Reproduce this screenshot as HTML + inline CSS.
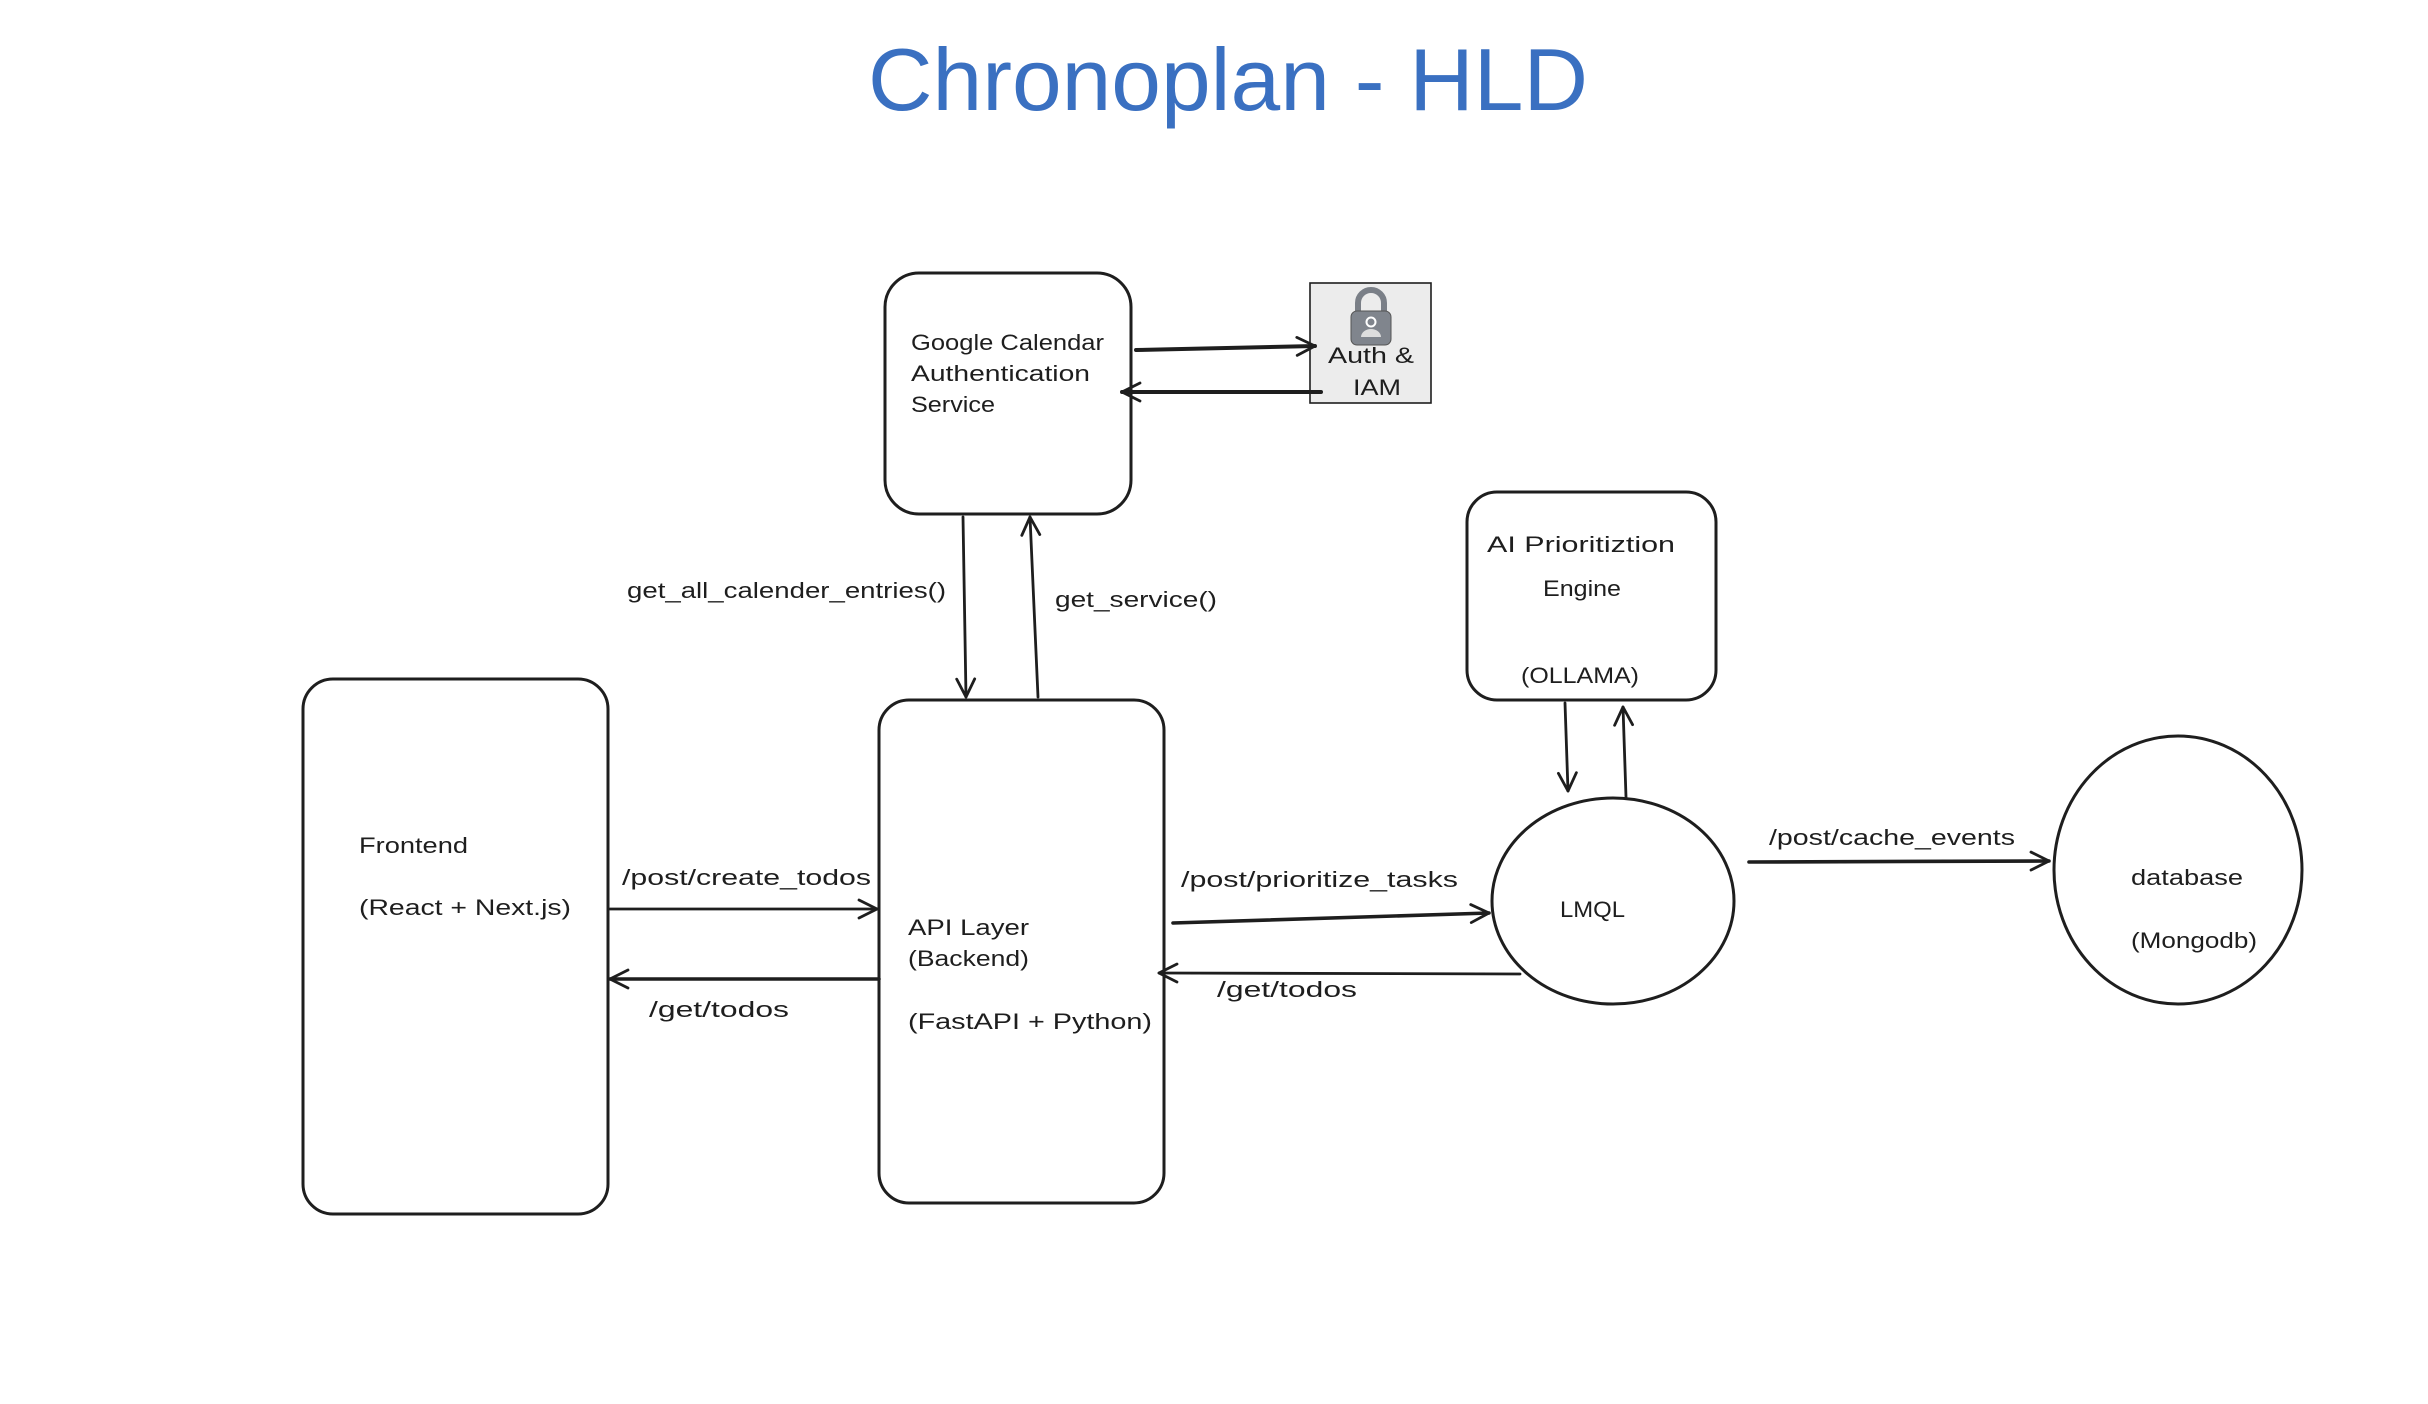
<!DOCTYPE html>
<html><head><meta charset="utf-8"><style>
html,body{margin:0;padding:0;background:#fff;}
svg{display:block;}
text{font-family:"Liberation Sans",sans-serif;fill:#1e1e1e;font-size:22px;}
</style></head><body>
<svg width="2428" height="1404" viewBox="0 0 2428 1404" xmlns="http://www.w3.org/2000/svg">
<defs>
<marker id="a" markerWidth="24" markerHeight="24" refX="20" refY="12" orient="auto" markerUnits="userSpaceOnUse">
<path d="M2,3 L20,12 L2,21" fill="none" stroke="#1e1e1e" stroke-width="2.8" stroke-linecap="round" stroke-linejoin="round"/>
</marker>
</defs>
<text x="1228" y="110" text-anchor="middle" style="font-size:88px;fill:#3a70c1" textLength="720" lengthAdjust="spacingAndGlyphs">Chronoplan - HLD</text>
<g transform="translate(-5,-3)">
<g fill="none" stroke="#1e1e1e" stroke-width="3">
<rect x="890" y="276" width="246" height="241" rx="34"/>
<rect x="308" y="682" width="305" height="535" rx="30"/>
<rect x="884" y="703" width="285" height="503" rx="30"/>
<rect x="1472" y="495" width="249" height="208" rx="30"/>
<ellipse cx="1618" cy="904" rx="121" ry="103"/>
<ellipse cx="2183" cy="873" rx="124" ry="134"/>
</g>
<rect x="1315" y="286" width="121" height="120" fill="#ececec" stroke="#1e1e1e" stroke-width="1.6"/>
<path d="M1363,318 v-12 a13,13 0 0 1 26,0 v12" fill="none" stroke="#7a7f87" stroke-width="6"/>
<rect x="1356" y="314" width="40" height="34" rx="6" fill="#80858d" stroke="#555" stroke-width="1"/>
<circle cx="1376" cy="325" r="4.5" fill="none" stroke="#fff" stroke-width="2"/>
<path d="M1366,340 a10,8 0 0 1 20,0 z" fill="#ddd"/>

<g fill="none" stroke="#1e1e1e" stroke-width="2.8" marker-end="url(#a)" stroke-linecap="round">
<line x1="1141" y1="353" x2="1320" y2="349" stroke-width="4"/>
<line x1="1326" y1="395" x2="1127" y2="395" stroke-width="4"/>
<line x1="968" y1="520" x2="971" y2="700"/>
<line x1="1043" y1="700" x2="1035" y2="520"/>
<line x1="615" y1="912" x2="882" y2="912"/>
<line x1="884" y1="982" x2="615" y2="982" stroke-width="3.6"/>
<line x1="1178" y1="926" x2="1494" y2="916" stroke-width="3.6"/>
<line x1="1525" y1="977" x2="1164" y2="976"/>
<line x1="1570" y1="706" x2="1573" y2="794"/>
<line x1="1631" y1="800" x2="1628" y2="710"/>
<line x1="1754" y1="865" x2="2054" y2="864" stroke-width="3.6"/>
</g>

<text x="632" y="601" textLength="319" lengthAdjust="spacingAndGlyphs">get_all_calender_entries()</text>
<text x="1060" y="610" textLength="162" lengthAdjust="spacingAndGlyphs">get_service()</text>
<text x="627" y="888" textLength="249" lengthAdjust="spacingAndGlyphs">/post/create_todos</text>
<text x="654" y="1020" textLength="140" lengthAdjust="spacingAndGlyphs">/get/todos</text>
<text x="1186" y="890" textLength="277" lengthAdjust="spacingAndGlyphs">/post/prioritize_tasks</text>
<text x="1222" y="1000" textLength="140" lengthAdjust="spacingAndGlyphs">/get/todos</text>
<text x="1774" y="848" textLength="246" lengthAdjust="spacingAndGlyphs">/post/cache_events</text>

<text x="916" y="353" textLength="193" lengthAdjust="spacingAndGlyphs">Google Calendar</text>
<text x="916" y="384" textLength="179" lengthAdjust="spacingAndGlyphs">Authentication</text>
<text x="916" y="415" textLength="84" lengthAdjust="spacingAndGlyphs">Service</text>
<text x="1333" y="366" textLength="86" lengthAdjust="spacingAndGlyphs">Auth &amp;</text>
<text x="1358" y="398" textLength="48" lengthAdjust="spacingAndGlyphs">IAM</text>

<text x="364" y="856" textLength="109" lengthAdjust="spacingAndGlyphs">Frontend</text>
<text x="364" y="918" textLength="212" lengthAdjust="spacingAndGlyphs">(React + Next.js)</text>
<text x="913" y="938" textLength="121" lengthAdjust="spacingAndGlyphs">API Layer</text>
<text x="913" y="969" textLength="121" lengthAdjust="spacingAndGlyphs">(Backend)</text>
<text x="913" y="1032" textLength="244" lengthAdjust="spacingAndGlyphs">(FastAPI + Python)</text>
<text x="1492" y="555" textLength="188" lengthAdjust="spacingAndGlyphs">AI Prioritiztion</text>
<text x="1548" y="599" textLength="78" lengthAdjust="spacingAndGlyphs">Engine</text>
<text x="1526" y="686" textLength="118" lengthAdjust="spacingAndGlyphs">(OLLAMA)</text>
<text x="1565" y="920" textLength="65" lengthAdjust="spacingAndGlyphs">LMQL</text>
<text x="2136" y="888" textLength="112" lengthAdjust="spacingAndGlyphs">database</text>
<text x="2136" y="951" textLength="126" lengthAdjust="spacingAndGlyphs">(Mongodb)</text>
</g>
</svg>
</body></html>
